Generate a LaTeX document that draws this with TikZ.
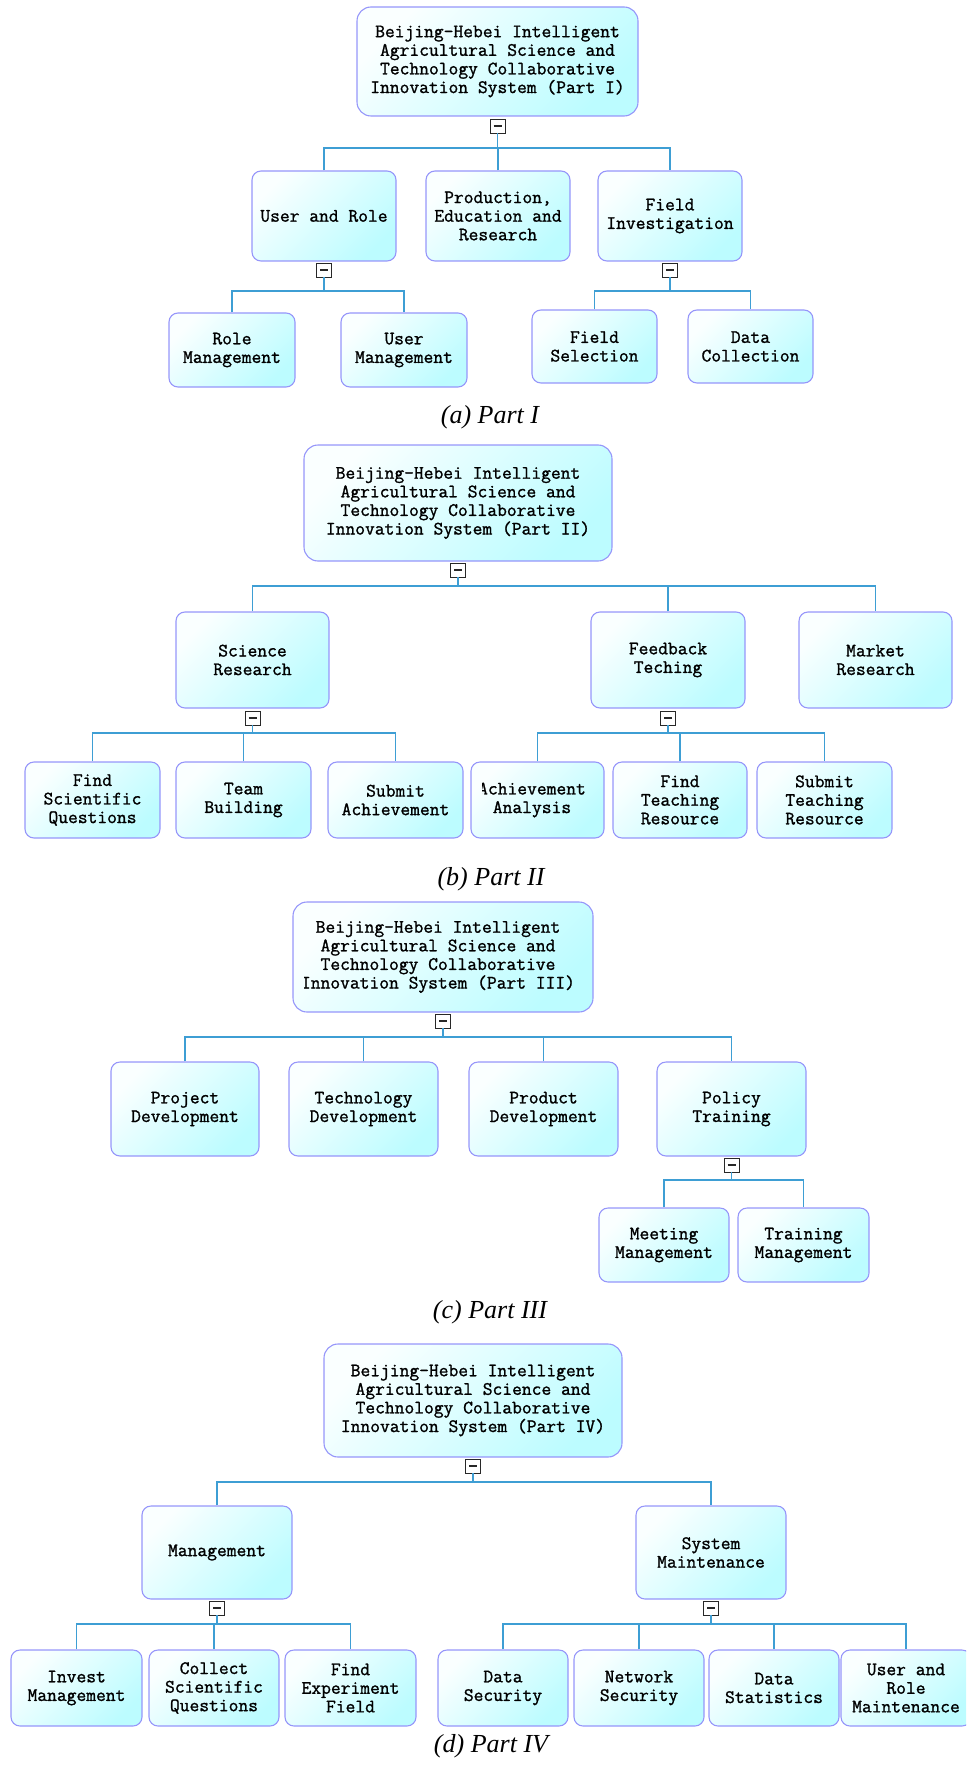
\documentclass[tikz,border=0pt]{standalone}
\usepackage{fontspec}
\newfontfamily\capfont{Liberation Serif}
\newfontfamily\diagmono{Latin Modern Mono}[FakeBold=1.2]
\newcommand\diagfont{\diagmono\fontsize{19}{18.6}\selectfont}
\definecolor{boxline}{RGB}{150,150,250}
\definecolor{boxfillA}{RGB}{250,255,255}
\definecolor{boxfillB}{RGB}{188,252,255}
\definecolor{wirecol}{RGB}{62,158,212}
\definecolor{togglebd}{RGB}{40,40,40}
\tikzset{
  box/.style={draw=boxline, line width=1.1pt, rounded corners=9pt,
    top color=boxfillA, bottom color=boxfillB, shading angle=45,
    inner sep=0pt, align=center, font=\diagfont},
  rootbox/.style={box, rounded corners=14pt},
  boxtext/.style={inner sep=0pt, align=center, font=\diagfont},
  toggle/.style={draw=togglebd, fill=white, line width=0.9pt,
    minimum width=15pt, minimum height=14pt, inner sep=0pt, anchor=north,
    path picture={\draw[line width=1.1pt]
      ([xshift=-4pt]path picture bounding box.center) --
      ([xshift=4pt]path picture bounding box.center);}},
  wire/.style={draw=wirecol, line width=1.3pt},
  caption/.style={font=\capfont\itshape\fontsize{26}{30}\selectfont, anchor=base}
}
\begin{document}
\begin{tikzpicture}[x=1pt, y=-1pt]
\useasboundingbox (0,0) rectangle (966,1768);
\clip (0,0) rectangle (966,1768);

% ---------------- Part I ----------------
\coordinate (busA) at (0,148);
\coordinate (busA1) at (0,291);
\node[rootbox, minimum width=281pt, minimum height=109pt] (a0) at (497.5,61.5)
  {Beijing-Hebei Intelligent\\Agricultural Science and\\Technology Collaborative\\Innovation System (Part I)};
\node[toggle] (a0m) at ([yshift=-2pt]a0.south) {};
\node[box, minimum width=144pt, minimum height=90pt] (a1) at (324,216) {User and Role};
\node[box, minimum width=144pt, minimum height=90pt] (a2) at (498,216) {Production,\\Education and\\Research};
\node[box, minimum width=144pt, minimum height=90pt] (a3) at (670,216) {Field\\Investigation};
\node[toggle] (a1m) at ([yshift=-1pt]a1.south) {};
\node[toggle] (a3m) at ([yshift=-1pt]a3.south) {};
\node[box, minimum width=126pt, minimum height=74pt] (a11) at (232,350) {Role\\Management};
\node[box, minimum width=126pt, minimum height=74pt] (a12) at (404,350) {User\\Management};
\node[box, minimum width=125pt, minimum height=73pt] (a31) at (594.5,346.5) {Field\\Selection};
\node[box, minimum width=125pt, minimum height=73pt] (a32) at (750.5,346.5) {Data\\Collection};
\draw[wire] (a0m.south) -- (a0m |- busA);
\draw[wire] (a1.north) -- (a1 |- busA) -- (a3 |- busA) -- (a3.north);
\draw[wire] (a2.north) -- (a2 |- busA);
\draw[wire] (a1m.south) -- (a1m |- busA1);
\draw[wire] (a11.north) -- (a11 |- busA1) -- (a12 |- busA1) -- (a12.north);
\draw[wire] (a3m.south) -- (a3m |- busA1);
\draw[wire] (a31.north) -- (a31 |- busA1) -- (a32 |- busA1) -- (a32.north);
\node[caption] (capA) at (490,423) {(a) Part I};

% ---------------- Part II ----------------
\coordinate (busB) at (0,586);
\coordinate (busB1) at (0,733);
\node[rootbox, minimum width=308pt, minimum height=116pt] (b0) at (458,503)
  {Beijing-Hebei Intelligent\\Agricultural Science and\\Technology Collaborative\\Innovation System (Part II)};
\node[toggle] (b0m) at ([yshift=-1pt]b0.south) {};
\node[box, minimum width=153pt, minimum height=96pt] (b1) at (252.5,660) {Science\\Research};
\node[box, minimum width=154pt, minimum height=96pt] (b2) at (668,660) {Feedback\\Teching};
\node[box, minimum width=153pt, minimum height=96pt] (b3) at (875.5,660) {Market\\Research};
\node[toggle] (b1m) at ([yshift=-2pt]b1.south) {};
\node[toggle] (b2m) at ([yshift=-2pt]b2.south) {};
\node[box, minimum width=135pt, minimum height=76pt] (b11) at (92.5,800) {Find\\Scientific\\Questions};
\node[box, minimum width=135pt, minimum height=76pt] (b12) at (243.5,800) {Team\\Building};
\node[box, minimum width=135pt, minimum height=76pt] (b13) at (395.5,800) {Submit\\Achievement};
\node[box, minimum width=133pt, minimum height=76pt] (b21) at (537.5,800) {};
\begin{scope}
  \clip (482,762) rectangle (604,838);
  \node[boxtext] (b21t) at (532,800) {Achievement\\Analysis};
\end{scope}
\node[box, minimum width=134pt, minimum height=76pt] (b22) at (680,800) {Find\\Teaching\\Resource};
\node[box, minimum width=135pt, minimum height=76pt] (b23) at (824.5,800) {Submit\\Teaching\\Resource};
\draw[wire] (b0m.south) -- (b0m |- busB);
\draw[wire] (b1.north) -- (b1 |- busB) -- (b3 |- busB) -- (b3.north);
\draw[wire] (b2.north) -- (b2 |- busB);
\draw[wire] (b1m.south) -- (b1m |- busB1);
\draw[wire] (b11.north) -- (b11 |- busB1) -- (b13 |- busB1) -- (b13.north);
\draw[wire] (b12.north) -- (b12 |- busB1);
\draw[wire] (b2m.south) -- (b2m |- busB1);
\draw[wire] (b21.north) -- (b21 |- busB1) -- (b23 |- busB1) -- (b23.north);
\draw[wire] (b22.north) -- (b22 |- busB1);
\node[caption] (capB) at (491,885) {(b) Part II};

% ---------------- Part III ----------------
\coordinate (busC) at (0,1037);
\coordinate (busC1) at (0,1180);
\node[rootbox, minimum width=300pt, minimum height=110pt] (c0) at (443,957) {};
\begin{scope}
  \clip (304,902) rectangle (593,1012);
  \node[boxtext] (c0t) at (438,957)
    {Beijing-Hebei Intelligent\\Agricultural Science and\\Technology Collaborative\\Innovation System (Part III)};
\end{scope}
\node[toggle] (c0m) at ([yshift=-1pt]c0.south) {};
\node[box, minimum width=148pt, minimum height=94pt] (c1) at (185,1109) {Project\\Development};
\node[box, minimum width=149pt, minimum height=94pt] (c2) at (363.5,1109) {Technology\\Development};
\node[box, minimum width=149pt, minimum height=94pt] (c3) at (543.5,1109) {Product\\Development};
\node[box, minimum width=149pt, minimum height=94pt] (c4) at (731.5,1109) {Policy\\Training};
\node[toggle] (c4m) at ([yshift=-1pt]c4.south) {};
\node[box, minimum width=130pt, minimum height=74pt] (c41) at (664,1245) {Meeting\\Management};
\node[box, minimum width=131pt, minimum height=74pt] (c42) at (803.5,1245) {Training\\Management};
\draw[wire] (c0m.south) -- (c0m |- busC);
\draw[wire] (c1.north) -- (c1 |- busC) -- (c4 |- busC) -- (c4.north);
\draw[wire] (c2.north) -- (c2 |- busC);
\draw[wire] (c3.north) -- (c3 |- busC);
\draw[wire] (c4m.south) -- (c4m |- busC1);
\draw[wire] (c41.north) -- (c41 |- busC1) -- (c42 |- busC1) -- (c42.north);
\node[caption] (capC) at (490,1318) {(c) Part III};

% ---------------- Part IV ----------------
\coordinate (busD) at (0,1482);
\coordinate (busD1) at (0,1624);
\node[rootbox, minimum width=298pt, minimum height=113pt] (d0) at (473,1400.5)
  {Beijing-Hebei Intelligent\\Agricultural Science and\\Technology Collaborative\\Innovation System (Part IV)};
\node[toggle] (d0m) at ([yshift=-1pt]d0.south) {};
\node[box, minimum width=150pt, minimum height=93pt] (d1) at (217,1552.5) {Management};
\node[box, minimum width=150pt, minimum height=93pt] (d2) at (711,1552.5) {System\\Maintenance};
\node[toggle] (d1m) at ([yshift=-1pt]d1.south) {};
\node[toggle] (d2m) at ([yshift=-1pt]d2.south) {};
\node[box, minimum width=131pt, minimum height=76pt] (d11) at (76.5,1688) {Invest\\Management};
\node[box, minimum width=130pt, minimum height=76pt] (d12) at (214,1688) {Collect\\Scientific\\Questions};
\node[box, minimum width=131pt, minimum height=76pt] (d13) at (350.5,1688) {Find\\Experiment\\Field};
\node[box, minimum width=130pt, minimum height=76pt] (d21) at (503,1688) {Data\\Security};
\node[box, minimum width=130pt, minimum height=76pt] (d22) at (639,1688) {Network\\Security};
\node[box, minimum width=130pt, minimum height=76pt] (d23) at (774,1688) {Data\\Statistics};
\node[box, minimum width=130pt, minimum height=76pt] (d24) at (906,1688) {User and\\Role\\Maintenance};
\draw[wire] (d0m.south) -- (d0m |- busD);
\draw[wire] (d1.north) -- (d1 |- busD) -- (d2 |- busD) -- (d2.north);
\draw[wire] (d1m.south) -- (d1m |- busD1);
\draw[wire] (d11.north) -- (d11 |- busD1) -- (d13 |- busD1) -- (d13.north);
\draw[wire] (d12.north) -- (d12 |- busD1);
\draw[wire] (d2m.south) -- (d2m |- busD1);
\draw[wire] (d21.north) -- (d21 |- busD1) -- (d24 |- busD1) -- (d24.north);
\draw[wire] (d22.north) -- (d22 |- busD1);
\draw[wire] (d23.north) -- (d23 |- busD1);
\node[caption] (capD) at (491,1752) {(d) Part IV};
\end{tikzpicture}
\end{document}
